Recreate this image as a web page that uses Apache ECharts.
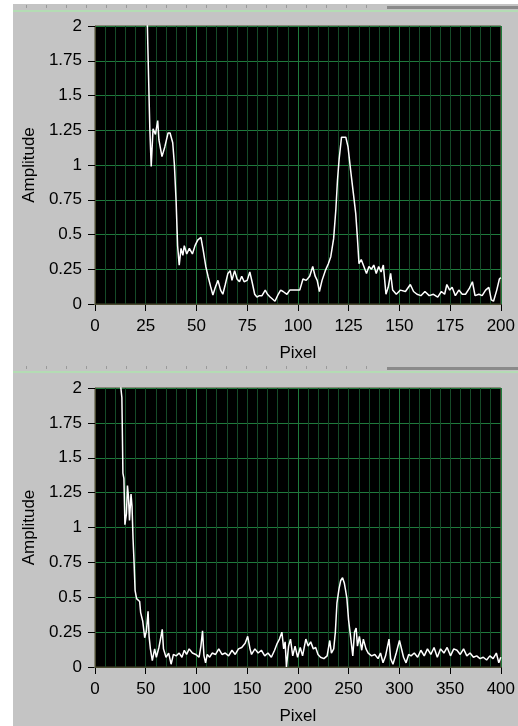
<!DOCTYPE html>
<html>
<head>
<meta charset="utf-8">
<script src="https://cdn.jsdelivr.net/npm/echarts@6/dist/echarts.min.js"></script>
<style>
  html, body { margin: 0; padding: 0; background: #c4c4c4; }
  #chart { width: 518px; height: 726px; }
</style>
</head>
<body>
<div id="chart"></div>
<script>
// Upper spectrum: pixel position and amplitude
const topPixel = [25, 26, 27, 27.7, 28.2, 28.6, 29.8, 30.9, 31.5, 33, 34.4, 36, 37, 38.3, 39.1, 40, 40.7, 41.5, 42.4, 43.3,
  44, 45.2, 46.5, 48, 49.3, 50.6, 52.2, 53.3, 54.6, 55.7, 57, 58.1, 59.3, 60.6, 61.9, 63, 64.2, 65.5, 66.6, 67.5,
  68.8, 70, 71.2, 72.3, 73.5, 75, 76.3, 77.4, 78.7, 79.8, 81, 82.3, 83.9, 85, 86.3, 88.7, 90.3, 91.5, 92.7, 94.6,
  96, 97.5, 99.2, 100.9, 102.5, 104.1, 105.8, 107.3, 108.5, 109.5, 110.6, 111.9, 113.5, 115, 116.2, 117.6, 118.7, 119.5, 120.3, 121.5,
  123.6, 124.7, 126, 127.3, 128.5, 129.3, 130.1, 131.2, 132.5, 133.8, 135, 136.2, 137.4, 138.6, 139.8, 141, 142.1, 143.4, 144.5, 145.7,
  146.7, 148.5, 150.5, 153, 155.4, 157, 158.7, 160.6, 162.6, 164.7, 166.8, 168.9, 170.7, 172.3, 173.4, 174.8, 176, 177.6, 179.3, 181,
  182.6, 184.4, 186, 187.3, 189.2, 190.8, 192.5, 194.1, 195.3, 196.4, 198, 199.3, 200];
const topAmplitude = [2.6, 1.88, 1.27, 0.99, 1.0, 1.26, 1.22, 1.32, 1.18, 1.06, 1.13, 1.23, 1.23, 1.16, 1.01, 0.73, 0.42, 0.28, 0.40, 0.35,
  0.42, 0.36, 0.40, 0.36, 0.42, 0.46, 0.48, 0.39, 0.27, 0.20, 0.125, 0.065, 0.12, 0.17, 0.10, 0.07, 0.14, 0.22, 0.24, 0.17,
  0.24, 0.18, 0.16, 0.20, 0.16, 0.17, 0.23, 0.16, 0.07, 0.05, 0.06, 0.06, 0.10, 0.07, 0.05, 0.02, 0.07, 0.10, 0.09, 0.07,
  0.10, 0.10, 0.10, 0.10, 0.18, 0.17, 0.20, 0.27, 0.20, 0.17, 0.09, 0.17, 0.24, 0.29, 0.34, 0.47, 0.68, 0.89, 1.04, 1.20,
  1.20, 1.13, 0.96, 0.80, 0.65, 0.48, 0.29, 0.32, 0.27, 0.22, 0.27, 0.25, 0.28, 0.22, 0.27, 0.23, 0.28, 0.07, 0.12, 0.22,
  0.10, 0.07, 0.10, 0.09, 0.14, 0.09, 0.07, 0.06, 0.09, 0.06, 0.07, 0.05, 0.09, 0.07, 0.14, 0.10, 0.12, 0.06, 0.10, 0.07,
  0.07, 0.11, 0.16, 0.06, 0.07, 0.06, 0.10, 0.12, 0.03, 0.02, 0.10, 0.18, 0.19];

// Lower spectrum: pixel position and amplitude
const bottomPixel = [24, 25.5, 26.5, 27.5, 28.5, 29.5, 31, 32, 33, 34, 35.5, 36.5, 37.5, 38.5, 39.5, 41, 44, 45, 47, 49,
  50.7, 52.3, 53.3, 54.6, 56.5, 58.8, 60.5, 63, 64.3, 66.3, 67.5, 70, 72.6, 75, 77.3, 80, 83, 85.7, 88, 90.3,
  92.8, 96, 99.3, 102.6, 104.4, 106, 107.4, 109, 110.6, 113, 115.5, 118.8, 122, 125.2, 128.4, 131.7, 135, 138.2, 141.4, 144.6,
  148, 150.5, 152.8, 154.3, 157.6, 160.8, 164, 167.3, 170.5, 173.8, 177, 179.6, 181.8, 184.2, 186, 187.4, 188.7, 190.8, 192.7, 194.9,
  197.2, 199.7, 202.3, 204.6, 207.8, 210.1, 212.6, 215.2, 217.5, 219.8, 222.3, 225.6, 228.8, 231.4, 233, 235.3, 236.9, 238.5, 240.5, 242.2,
  244, 245.8, 247, 248.3, 249.9, 252.2, 254.1, 255.8, 257.4, 258.7, 260.6, 262.9, 264.5, 267.1, 269.3, 272.6, 275.8, 279, 281.4, 283.9,
  286.4, 289.8, 291.4, 293.7, 296.9, 300.1, 301.8, 304.1, 306.6, 309.2, 311.5, 314.7, 318, 321.2, 324.5, 327.7, 331, 334.2, 337.4, 340.6,
  343.9, 347.1, 350.4, 353.6, 356.8, 360, 363.3, 366.5, 369.7, 373, 376.2, 379.5, 382.7, 386, 389.2, 392.4, 395.6, 398, 400];
const bottomAmplitude = [2.6, 2.0, 1.93, 1.39, 1.35, 1.02, 1.10, 1.30, 1.22, 1.05, 1.24, 1.15, 0.92, 0.75, 0.55, 0.49, 0.47, 0.39, 0.33, 0.21,
  0.26, 0.40, 0.22, 0.13, 0.045, 0.13, 0.07, 0.14, 0.19, 0.27, 0.13, 0.07, 0.10, 0.02, 0.09, 0.08, 0.10, 0.07, 0.12, 0.09,
  0.13, 0.10, 0.09, 0.07, 0.15, 0.26, 0.08, 0.03, 0.09, 0.07, 0.10, 0.09, 0.13, 0.09, 0.10, 0.08, 0.12, 0.09, 0.13, 0.14,
  0.17, 0.22, 0.13, 0.09, 0.13, 0.10, 0.12, 0.08, 0.10, 0.07, 0.12, 0.17, 0.20, 0.25, 0.13, 0.18, 0.0, 0.15, 0.20, 0.08,
  0.15, 0.07, 0.14, 0.08, 0.20, 0.15, 0.18, 0.13, 0.14, 0.09, 0.07, 0.06, 0.08, 0.19, 0.10, 0.13, 0.25, 0.46, 0.56, 0.62,
  0.64, 0.60, 0.55, 0.49, 0.34, 0.20, 0.08, 0.25, 0.28, 0.15, 0.22, 0.12, 0.20, 0.13, 0.10, 0.08, 0.09, 0.06, 0.10, 0.03,
  0.08, 0.20, 0.06, 0.02, 0.10, 0.19, 0.14, 0.07, 0.03, 0.09, 0.08, 0.10, 0.07, 0.12, 0.08, 0.13, 0.09, 0.14, 0.07, 0.13,
  0.10, 0.14, 0.08, 0.13, 0.12, 0.09, 0.13, 0.08, 0.10, 0.07, 0.08, 0.06, 0.07, 0.05, 0.08, 0.06, 0.10, 0.03, 0.07];

// Tick labels of each axis
const topXTicks = [0, 25, 50, 75, 100, 125, 150, 175, 200];
const bottomXTicks = [0, 50, 100, 150, 200, 250, 300, 350, 400];
const amplitudeTicks = [0, 0.25, 0.5, 0.75, 1, 1.25, 1.5, 1.75, 2];

const FONT = '"Liberation Sans", Arial, sans-serif';
const FONT_SIZE = 17;
const GRID_MAJOR = '#1f7a3c';
const GRID_MINOR = '#154a27';
const EDGE_LIGHT = '#c2e2c2';
const EDGE_DARK = '#4a4a30';

function zip(xs, ys) { return xs.map((x, i) => [x, ys[i]]); }

function range(ticks) {
  return { min: ticks[0], max: ticks[ticks.length - 1] };
}

function labelXAxis(grid, ticks, minorSplit) {
  return Object.assign({
    gridIndex: grid, type: 'value', interval: ticks[1] - ticks[0],
    offset: 4,
    axisLine: { show: false },
    axisTick: { show: true, length: 7, lineStyle: { color: '#000', width: 1 } },
    axisLabel: { color: '#000', fontFamily: FONT, fontSize: FONT_SIZE, margin: 10 },
    splitLine: { show: true, lineStyle: { color: GRID_MINOR, width: 1 } },
    minorTick: { show: false, splitNumber: minorSplit },
    minorSplitLine: { show: true, lineStyle: { color: GRID_MINOR, width: 1 } },
    name: 'Pixel', nameLocation: 'middle', nameGap: 37,
    nameTextStyle: { color: '#000', fontFamily: FONT, fontSize: FONT_SIZE }
  }, range(ticks));
}

// Brighter vertical grid every second labelled tick, plus the light lower frame edge
function brightXAxis(grid, ticks) {
  return Object.assign({
    gridIndex: grid, type: 'value', interval: 2 * (ticks[1] - ticks[0]),
    position: 'bottom', z: 3,
    axisLine: { show: true, lineStyle: { color: EDGE_LIGHT, width: 1 } },
    axisTick: { show: false }, axisLabel: { show: false },
    splitLine: { show: true, lineStyle: { color: GRID_MAJOR, width: 1 } }
  }, range(ticks));
}

// Dark upper frame edge
function topEdgeXAxis(grid, ticks) {
  return Object.assign({
    gridIndex: grid, type: 'value', position: 'top', z: 3,
    axisLine: { show: true, lineStyle: { color: EDGE_DARK, width: 1 } },
    axisTick: { show: false }, axisLabel: { show: false }, splitLine: { show: false }
  }, range(ticks));
}

function labelYAxis(grid) {
  return Object.assign({
    gridIndex: grid, type: 'value', interval: amplitudeTicks[1] - amplitudeTicks[0],
    offset: 3,
    axisLine: { show: false },
    axisTick: { show: true, length: 7, lineStyle: { color: '#000', width: 1 } },
    axisLabel: { color: '#000', fontFamily: FONT, fontSize: FONT_SIZE, margin: 10 },
    splitLine: { show: true, lineStyle: { color: GRID_MAJOR, width: 1 } },
    name: 'Amplitude', nameLocation: 'middle', nameGap: 52, nameRotate: 90,
    nameTextStyle: { color: '#000', fontFamily: FONT, fontSize: FONT_SIZE }
  }, range(amplitudeTicks));
}

function edgeYAxis(grid, side, color) {
  return Object.assign({
    gridIndex: grid, type: 'value', position: side, z: 3,
    axisLine: { show: true, lineStyle: { color: color, width: 1 } },
    axisTick: { show: false }, axisLabel: { show: false }, splitLine: { show: false }
  }, range(amplitudeTicks));
}

// Panel chrome: white margin strip, ruler bands and separator lines
const chrome = [
  { type: 'rect', shape: { x: 0, y: 0, width: 13, height: 726 }, style: { fill: '#ffffff' }, silent: true },
  { type: 'rect', shape: { x: 13, y: 0, width: 505, height: 4 }, style: { fill: '#ffffff' }, silent: true },
  { type: 'rect', shape: { x: 13, y: 10, width: 505, height: 2 }, style: { fill: '#b4dcb4' }, silent: true },
  { type: 'rect', shape: { x: 387, y: 6, width: 131, height: 3 }, style: { fill: '#8a8a8a' }, silent: true },
  { type: 'rect', shape: { x: 13, y: 371, width: 505, height: 2 }, style: { fill: '#b4dcb4' }, silent: true },
  { type: 'rect', shape: { x: 387, y: 367, width: 131, height: 3 }, style: { fill: '#8a8a8a' }, silent: true }
];
for (let x = 26; x <= 370; x += 20) {
  chrome.push({ type: 'rect', shape: { x: x, y: 5, width: 1, height: 3 }, style: { fill: '#9a9a9a' }, silent: true });
  chrome.push({ type: 'rect', shape: { x: x, y: 366, width: 1, height: 3 }, style: { fill: '#9a9a9a' }, silent: true });
}

const lineSeries = (xi, yi, data) => ({
  type: 'line', xAxisIndex: xi, yAxisIndex: yi, data: data,
  showSymbol: false, symbol: 'none', clip: true,
  lineStyle: { color: '#ffffff', width: 1.5 },
  emphasis: { disabled: true }
});

const chart = echarts.init(document.getElementById('chart'), null, { renderer: 'canvas' });
chart.setOption({
  animation: false,
  backgroundColor: '#c4c4c4',
  graphic: chrome,
  grid: [
    { left: 95, top: 26, width: 410, height: 278, show: true, backgroundColor: '#000', borderColor: EDGE_DARK, borderWidth: 1 },
    { left: 95, top: 388, width: 411, height: 280, show: true, backgroundColor: '#000', borderColor: EDGE_DARK, borderWidth: 1 }
  ],
  xAxis: [
    labelXAxis(0, topXTicks, 5), brightXAxis(0, topXTicks), topEdgeXAxis(0, topXTicks),
    labelXAxis(1, bottomXTicks, 5), brightXAxis(1, bottomXTicks), topEdgeXAxis(1, bottomXTicks)
  ],
  yAxis: [
    labelYAxis(0), edgeYAxis(0, 'right', EDGE_LIGHT), edgeYAxis(0, 'left', EDGE_DARK),
    labelYAxis(1), edgeYAxis(1, 'right', EDGE_LIGHT), edgeYAxis(1, 'left', EDGE_DARK)
  ],
  series: [
    lineSeries(0, 0, zip(topPixel, topAmplitude)),
    lineSeries(3, 3, zip(bottomPixel, bottomAmplitude))
  ]
});
</script>
</body>
</html>
